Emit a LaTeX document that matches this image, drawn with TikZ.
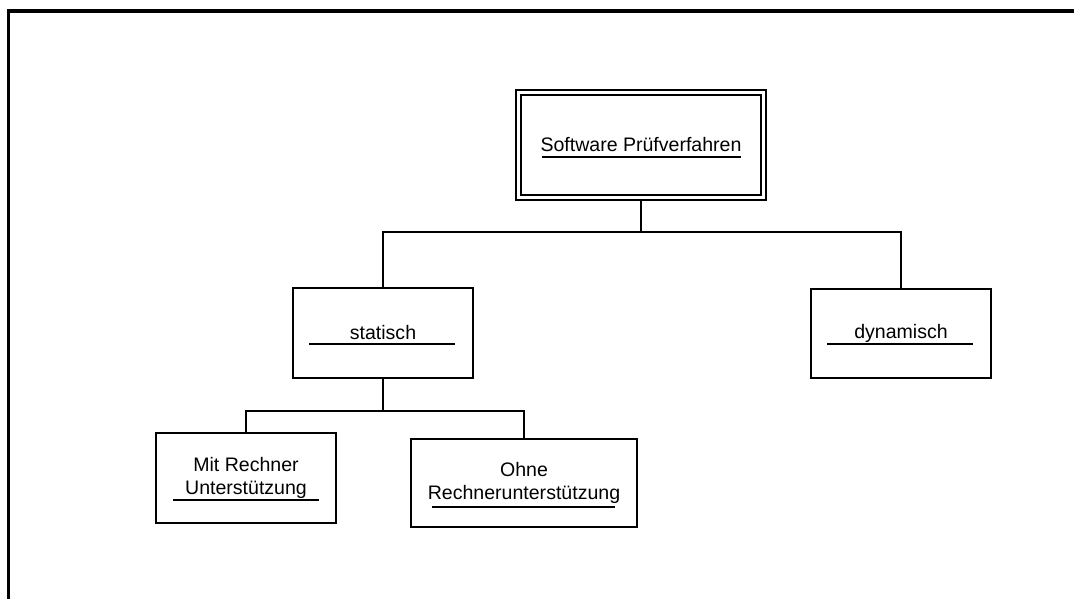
\documentclass[tikz,border=0pt]{standalone}
\usepackage{fontspec}
\setmainfont{Liberation Sans}
\usepackage{tikz}
\usetikzlibrary{positioning}

\tikzset{
  kasten/.style={draw, line width=1.3pt, minimum width=4.5cm, minimum height=2.25cm,
    outer sep=0pt, align=center, font=\fontsize{13.9}{16.4}\selectfont},
  strich/.style={line width=1.3pt}
}

\begin{document}
\begin{tikzpicture}[line width=1.3pt]
\useasboundingbox (0,0) rectangle (26.85,14.95);
% Rahmen
\draw [line width=2.2pt](0.2125,-0.1) -- (0.2125,14.675) -- (27,14.675);
% Kaesten
\node[kasten, line width=1.1pt, double, double distance=2.5pt, minimum width=6.125cm, minimum height=2.625cm, outer sep=1.8pt] (pruef) at (16.025,11.325) {Software Prüfverfahren};
\node[kasten] (statisch) at (9.575,6.625) {statisch};
\node[kasten, minimum height=2.225cm] (dynamisch) at (22.525,6.6125) {dynamisch};
\node[kasten] (mit) at (6.15,3.0) {Mit Rechner\\Unterstützung};
\node[kasten, minimum width=5.65cm, minimum height=2.2cm] (ohne) at (13.1,2.875) {Ohne\\Rechnerunterstützung};
% Unterstriche
\draw [strich]([xshift=-2.48cm,yshift=-0.3cm]pruef.center) -- ([xshift=2.5cm,yshift=-0.3cm]pruef.center);
\draw [strich]([xshift=-1.85cm,yshift=-0.275cm]statisch.center) -- ([xshift=1.8cm,yshift=-0.275cm]statisch.center);
\draw [strich]([xshift=-1.85cm,yshift=-0.27cm]dynamisch.center) -- ([xshift=1.8cm,yshift=-0.27cm]dynamisch.center);
\draw [strich]([xshift=-1.825cm,yshift=-0.55cm]mit.center) -- ([xshift=1.825cm,yshift=-0.55cm]mit.center);
\draw [strich]([xshift=-2.3cm,yshift=-0.6cm]ohne.center) -- ([xshift=2.28cm,yshift=-0.6cm]ohne.center);
% Verbindungen
\draw (pruef.south) -- ++(0,-0.8) coordinate (ast1) -| (statisch.north);
\draw (ast1) -| (dynamisch.north);
\draw (statisch.south) -- ++(0,-0.825) coordinate (ast2) -| (mit.north);
\draw (ast2) -| (ohne.north);
\end{tikzpicture}
\end{document}
